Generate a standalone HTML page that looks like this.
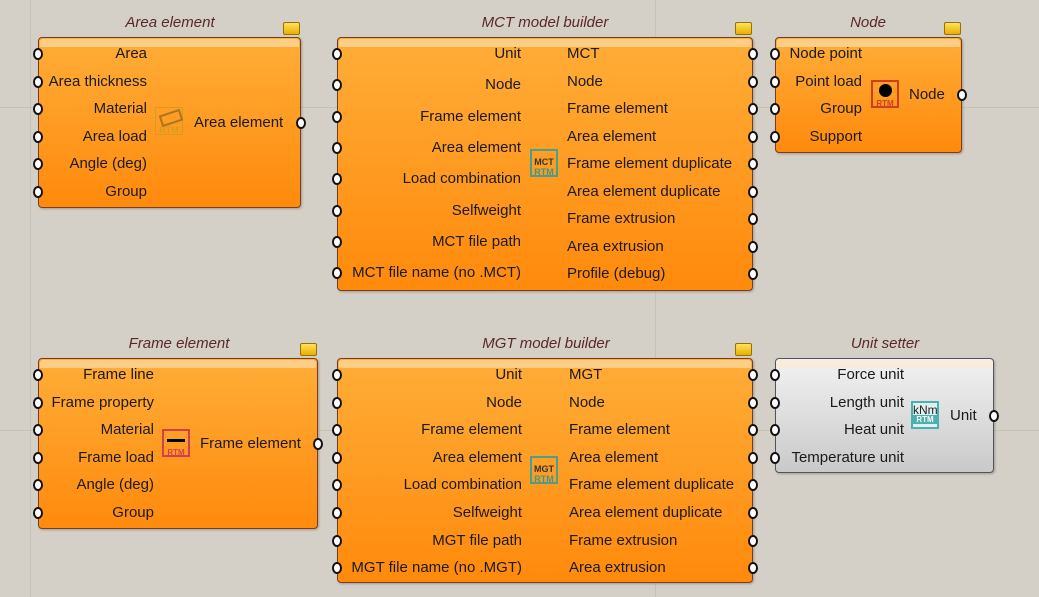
<!DOCTYPE html>
<html><head><meta charset="utf-8"><style>
body{margin:0;width:1039px;height:597px;overflow:hidden;background:#d4d0c8;position:relative;font-family:"Liberation Sans","DejaVu Sans",sans-serif;}
.g{position:absolute;background:#c6c2ba;}
.box{position:absolute;border:1px solid #7a3d1e;border-radius:4px;background:linear-gradient(#ffad38,#ff8a0c);box-shadow:1px 1px 2px rgba(0,0,0,.25);}
.box:before{content:"";position:absolute;left:1px;right:1px;top:1px;height:8px;background:rgba(255,235,200,.55);border-radius:3px 3px 0 0;}
.gray{background:linear-gradient(#f2f2f2,#c9c9c9);border-color:#555;}
.t{position:absolute;font-size:15px;color:#1a1a1a;white-space:nowrap;line-height:16px;}
.r{text-align:right;}
.title{position:absolute;font-size:15px;font-style:italic;color:#5a2828;white-space:nowrap;transform:translateX(-50%);}
.p{position:absolute;width:6px;height:8px;border:2px solid #111;background:#fff;border-radius:50%;}
.tag{position:absolute;width:15px;height:11px;background:linear-gradient(#ffe060,#e8b000);border:1px solid #9a7000;border-radius:2px;}
.ic{position:absolute;width:28px;height:28px;border:2px solid;box-sizing:border-box;font-size:9px;font-weight:bold;text-align:center;line-height:10px;}
</style></head><body>
<div class="g" style="left:30px;top:0;width:1px;height:597px"></div>
<div class="g" style="left:655px;top:0;width:1px;height:597px"></div>
<div class="g" style="left:0;top:107px;width:1039px;height:1px"></div>
<div class="g" style="left:0;top:430px;width:1039px;height:1px"></div>
<div id="c"></div>
<script>
var c=document.getElementById('c'),h='';
function comp(o){
 h+='<div class="title" style="left:'+o.tx+'px;top:'+(o.y-23)+'px">'+o.title+'</div>';
 h+='<div class="box '+(o.gray?'gray':'')+'" style="left:'+o.x+'px;top:'+o.y+'px;width:'+(o.w-2)+'px;height:'+(o.h-2)+'px"></div>';
 if(!o.gray)h+='<div class="tag" style="left:'+(o.x+o.w-18)+'px;top:'+(o.y-15)+'px"></div>';
 o.ins.forEach(function(a){h+='<div class="t r" style="left:'+(o.x+4)+'px;width:'+(o.ir-o.x-4)+'px;top:'+(a[1]-7)+'px">'+a[0]+'</div>';
  h+='<div class="p" style="left:'+(o.x-5)+'px;top:'+(a[1]-5)+'px"></div>';});
 o.outs.forEach(function(a){h+='<div class="t" style="left:'+o.ol+'px;top:'+(a[1]-7)+'px">'+a[0]+'</div>';
  h+='<div class="p" style="left:'+(o.x+o.w-5)+'px;top:'+(a[1]-5)+'px"></div>';});
 h+=o.icon;
}
function rows(arr,y0,dy){return arr.map(function(s,i){return [s,Math.round(y0+i*dy)]});}
comp({title:'Area element',tx:170,x:38,y:37,w:263,h:171,ir:147,ol:194,
 ins:rows(['Area','Area thickness','Material','Area load','Angle (deg)','Group'],53,27.6),
 outs:[['Area element',122]],
 icon:'<div class="ic" style="left:155px;top:107px;border-color:#c9a020;color:#c9a020;border-width:1px;padding-top:17px;opacity:.8">RTM<div style="position:absolute;left:4px;top:4px;width:18px;height:8px;border:2px solid #9a6a20;transform:rotate(-18deg)"></div></div>'});
comp({title:'MCT model builder',tx:545,x:337,y:37,w:416,h:254,ir:521,ol:567,
 ins:rows(['Unit','Node','Frame element','Area element','Load combination','Selfweight','MCT file path','MCT file name (no .MCT)'],53,31.3),
 outs:rows(['MCT','Node','Frame element','Area element','Frame element duplicate','Area element duplicate','Frame extrusion','Area extrusion','Profile (debug)'],53,27.5),
 icon:'<div class="ic" style="left:530px;top:149px;border-color:#4aa090;color:#333;padding-top:6px">MCT<br><span style="color:#3a9a8a">RTM</span></div>'});
comp({title:'Node',tx:868,x:775,y:37,w:187,h:116,ir:862,ol:909,
 ins:rows(['Node point','Point load','Group','Support'],53,27.5),
 outs:[['Node',94]],
 icon:'<div class="ic" style="left:871px;top:80px;border-color:#d04020;color:#d04020;padding-top:17px;font-size:8px">RTM<div style="position:absolute;left:6px;top:2px;width:13px;height:13px;border-radius:50%;background:#000"></div></div>'});
comp({title:'Frame element',tx:179,x:38,y:358,w:280,h:171,ir:154,ol:200,
 ins:rows(['Frame line','Frame property','Material','Frame load','Angle (deg)','Group'],374,27.6),
 outs:[['Frame element',443]],
 icon:'<div class="ic" style="left:162px;top:429px;border-color:#d04050;color:#d04050;padding-top:17px;font-size:8px">RTM<div style="position:absolute;left:3px;top:8px;width:18px;height:3px;background:#000"></div></div>'});
comp({title:'MGT model builder',tx:546,x:337,y:358,w:416,h:225,ir:522,ol:569,
 ins:rows(['Unit','Node','Frame element','Area element','Load combination','Selfweight','MGT file path','MGT file name (no .MGT)'],374,27.6),
 outs:rows(['MGT','Node','Frame element','Area element','Frame element duplicate','Area element duplicate','Frame extrusion','Area extrusion'],374,27.6),
 icon:'<div class="ic" style="left:530px;top:456px;border-color:#4aa090;color:#333;padding-top:6px">MGT<br><span style="color:#3a9a8a">RTM</span></div>'});
comp({title:'Unit setter',tx:885,x:775,y:358,w:219,h:115,ir:904,ol:950,gray:true,
 ins:rows(['Force unit','Length unit','Heat unit','Temperature unit'],374,27.6),
 outs:[['Unit',415]],
 icon:'<div class="ic" style="left:911px;top:401px;border-color:#4ab0b0;background:#e0f0f0;color:#222;font-size:12px;font-weight:normal;padding-top:2px">kNm<br><span style="font-size:8px;font-weight:bold;color:#fff;background:#4ab0b0;display:block;line-height:9px">RTM</span></div>'});
c.innerHTML=h;
</script>
</body></html>
